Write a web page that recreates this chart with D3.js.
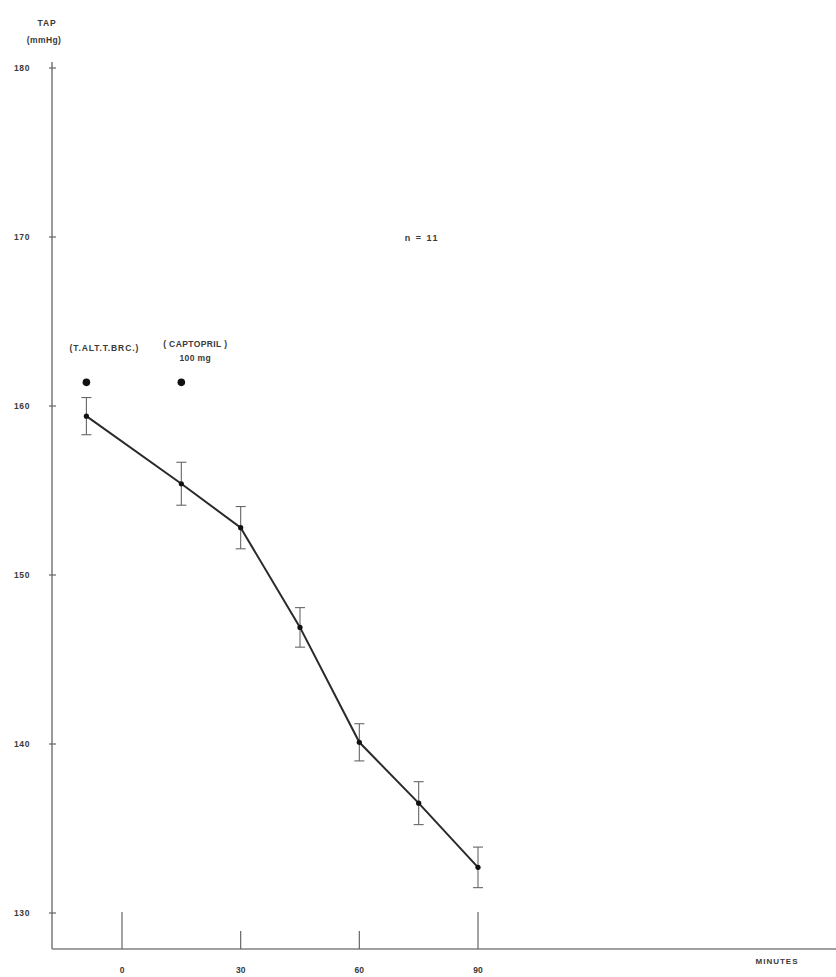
<!DOCTYPE html>
<html>
<head>
<meta charset="utf-8">
<script src="https://cdn.jsdelivr.net/npm/d3@7"></script>
<style>
  html, body { margin: 0; padding: 0; background: #fff; }
  svg { display: block; }
  text { font-family: "Liberation Sans", "DejaVu Sans", sans-serif; fill: #3a3a3a; font-weight: bold; }
</style>
</head>
<body>
<script>
// Mean arterial pressure (mmHg) over time (minutes), mean ± SEM, n = 11
const times    = [-9, 15, 30, 45, 60, 75, 90];
const pressure = [159.4, 155.4, 152.8, 146.9, 140.1, 136.5, 132.7];
const sem      = [1.1, 1.27, 1.25, 1.17, 1.1, 1.27, 1.2];

// Y axis ticks and labels
const yTicks = [130, 140, 150, 160, 170, 180];
// X axis ticks: long ticks at the start and end of the treatment window
const xTicks = [0, 30, 60, 90];
const xLongTicks = [0, 90];

// Event markers (drug administration)
const eventTimes  = [-9, 15];
const eventLevel  = 161.4;
const eventLabels = [["(T.ALT.T.BRC.)"], ["( CAPTOPRIL )", "100 mg"]];

const W = 836, H = 977;
const svg = d3.select("body").append("svg").attr("width", W).attr("height", H);

const x = d3.scaleLinear().domain([0, 90]).range([122, 478]);
const y = d3.scaleLinear().domain([130, 180]).range([913, 68]);

const axisLeft = 52, axisBottom = 949, axisTop = 62, axisRight = 836;
const axisColor = "#808080";

// Axis lines
svg.append("line").attr("x1", axisLeft).attr("x2", axisLeft)
  .attr("y1", axisTop).attr("y2", axisBottom)
  .attr("stroke", axisColor).attr("stroke-width", 1.6);
svg.append("line").attr("x1", axisLeft).attr("x2", axisRight)
  .attr("y1", axisBottom).attr("y2", axisBottom)
  .attr("stroke", axisColor).attr("stroke-width", 1.6);

// Y ticks and labels
const yg = svg.append("g");
yg.selectAll("line").data(yTicks).join("line")
  .attr("x1", axisLeft - 3).attr("x2", axisLeft + 4)
  .attr("y1", d => y(d)).attr("y2", d => y(d))
  .attr("stroke", "#666").attr("stroke-width", 1.2);
yg.selectAll("text").data(yTicks).join("text")
  .attr("x", 22).attr("y", d => y(d) + 3)
  .attr("text-anchor", "middle").attr("font-size", 8.5)
  .attr("letter-spacing", 0.6)
  .text(d => d);

// Y axis title
svg.append("text").attr("x", 47).attr("y", 26).attr("text-anchor", "middle")
  .attr("font-size", 8.5).attr("letter-spacing", 0.8).text("TAP");
svg.append("text").attr("x", 44).attr("y", 43).attr("text-anchor", "middle")
  .attr("font-size", 8.5).attr("letter-spacing", 0.4).text("(mmHg)");

// X ticks and labels
const xg = svg.append("g");
xg.selectAll("line").data(xTicks).join("line")
  .attr("x1", d => x(d)).attr("x2", d => x(d))
  .attr("y1", d => xLongTicks.includes(d) ? axisBottom - 37 : axisBottom - 18)
  .attr("y2", axisBottom)
  .attr("stroke", "#666").attr("stroke-width", 1.2);
xg.selectAll("text").data(xTicks).join("text")
  .attr("x", d => x(d)).attr("y", 973)
  .attr("text-anchor", "middle").attr("font-size", 8.5)
  .text(d => d);
svg.append("text").attr("x", 777).attr("y", 964).attr("text-anchor", "middle")
  .attr("font-size", 8).attr("letter-spacing", 1).text("MINUTES");

// n label
svg.append("text").attr("x", 422).attr("y", 241).attr("text-anchor", "middle")
  .attr("font-size", 9).attr("letter-spacing", 1.5).text("n = 11");

// Event markers
svg.selectAll("circle.event").data(eventTimes).join("circle")
  .attr("class", "event")
  .attr("cx", d => x(d)).attr("cy", y(eventLevel)).attr("r", 3.8)
  .attr("fill", "#111");
eventLabels.forEach((lines, i) => {
  const cx = x(eventTimes[i]) + (i === 0 ? 18 : 14);
  const base = i === 0 ? 351 : 347;
  const spacing = i === 0 ? 0.9 : 0.4;
  lines.forEach((t, j) => {
    svg.append("text").attr("x", cx).attr("y", base + j * 14)
      .attr("text-anchor", "middle").attr("font-size", 8.5)
      .attr("letter-spacing", spacing).text(t);
  });
});

const data = times.map((t, i) => ({ t, v: pressure[i], e: sem[i] }));

// Error bars
const eb = svg.append("g").attr("stroke", "#666").attr("stroke-width", 1.1);
eb.selectAll("line.v").data(data).join("line").attr("class", "v")
  .attr("x1", d => x(d.t)).attr("x2", d => x(d.t))
  .attr("y1", d => y(d.v + d.e)).attr("y2", d => y(d.v - d.e));
eb.selectAll("line.top").data(data).join("line").attr("class", "top")
  .attr("x1", d => x(d.t) - 5).attr("x2", d => x(d.t) + 5)
  .attr("y1", d => y(d.v + d.e)).attr("y2", d => y(d.v + d.e));
eb.selectAll("line.bot").data(data).join("line").attr("class", "bot")
  .attr("x1", d => x(d.t) - 5).attr("x2", d => x(d.t) + 5)
  .attr("y1", d => y(d.v - d.e)).attr("y2", d => y(d.v - d.e));

// Mean line
svg.append("path").datum(data)
  .attr("fill", "none").attr("stroke", "#2a2a2a").attr("stroke-width", 2)
  .attr("d", d3.line().x(d => x(d.t)).y(d => y(d.v)));

// Points
svg.selectAll("circle.pt").data(data).join("circle").attr("class", "pt")
  .attr("cx", d => x(d.t)).attr("cy", d => y(d.v)).attr("r", 2.6)
  .attr("fill", "#111");
</script>
</body>
</html>
